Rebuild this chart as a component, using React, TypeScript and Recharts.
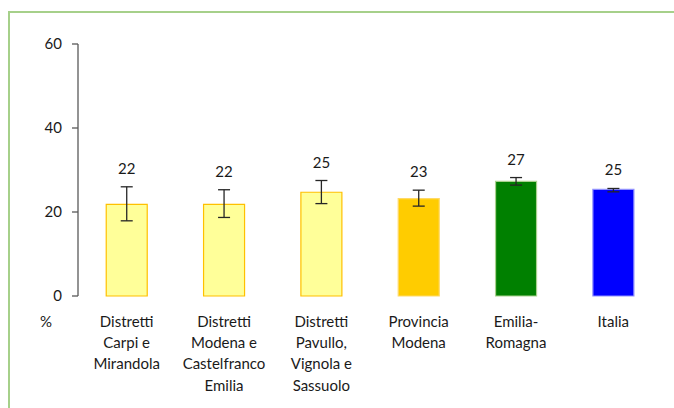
import { BarChart, Bar, XAxis, YAxis, ErrorBar, Cell, LabelList } from "recharts";

// categories (line breaks as in the original axis labels)
const categories = [
  "Distretti\nCarpi e\nMirandola",
  "Distretti\nModena e\nCastelfranco\nEmilia",
  "Distretti\nPavullo,\nVignola e\nSassuolo",
  "Provincia\nModena",
  "Emilia-\nRomagna",
  "Italia",
];
const values = [21.8, 21.8, 24.7, 23.2, 27.3, 25.4];
const valueLabels = ["22", "22", "25", "23", "27", "25"];
const errLow = [3.9, 3.1, 2.7, 1.8, 0.9, 0.6];
const errHigh = [4.2, 3.5, 2.8, 2.0, 0.9, 0.2];
const fills = ["#FFFF99", "#FFFF99", "#FFFF99", "#FFCC00", "#008000", "#0000FF"];
const strokes = ["#FFC000", "#FFC000", "#FFC000", "#FFD966", "#A9D18E", "#8F8FFF"];
const yTicks = [0, 20, 40, 60];

const data = categories.map((name, i) => ({
  name,
  value: values[i],
  label: valueLabels[i],
  err: [errLow[i], errHigh[i]],
}));

const FONT = "Lato, 'Open Sans', sans-serif";

const CategoryTick = (props: any) => {
  const { x, y, payload } = props;
  const lines = String(payload.value).split("\n");
  return (
    <text x={x} y={y} textAnchor="middle" fontSize={15} fill="#1a1a1a" fontFamily={FONT}>
      {lines.map((l, i) => (
        <tspan key={i} x={x} y={y + 23 + i * 21.2}>
          {l}
        </tspan>
      ))}
    </text>
  );
};

const ValueLabel = (props: any) => {
  const { x, y, width, height, index } = props;
  const perUnit = height / values[index];
  const top = y - errHigh[index] * perUnit;
  return (
    <text
      x={x + width / 2}
      y={top - 13}
      textAnchor="middle"
      fontSize={15}
      fill="#1a1a1a"
      fontFamily={FONT}
    >
      {valueLabels[index]}
    </text>
  );
};

export default function App() {
  return (
    <div
      style={{
        position: "absolute",
        left: 0,
        top: 0,
        width: 674,
        height: 408,
        background: "#fff",
        overflow: "hidden",
      }}
    >
      <div
        style={{
          position: "absolute",
          left: 8,
          top: 11,
          width: 700,
          height: 420,
          borderTop: "2px solid #A6D08A",
          borderLeft: "2px solid #A6D08A",
        }}
      />
      <div style={{ position: "absolute", left: 0, top: 0 }}>
        <BarChart
          width={674}
          height={408}
          data={data}
          margin={{ top: 44, right: 12, bottom: 0, left: 0 }}
          barCategoryGap="29%"
        >
          <XAxis
            dataKey="name"
            axisLine={false}
            tickLine={false}
            height={112}
            interval={0}
            tick={<CategoryTick />}
          />
          <YAxis
            width={78}
            domain={[0, 60]}
            ticks={yTicks}
            interval={0}
            tickSize={6}
            tickMargin={10}
            axisLine={{ stroke: "#595959", strokeWidth: 1.3 }}
            tickLine={{ stroke: "#595959", strokeWidth: 1.3 }}
            tick={{ fontSize: 15, fill: "#1a1a1a", fontFamily: FONT }}
          />
          <Bar dataKey="value" isAnimationActive={false} strokeWidth={1.2}>
            {data.map((d, i) => (
              <Cell key={d.name} fill={fills[i]} stroke={strokes[i]} />
            ))}
            <ErrorBar
              dataKey="err"
              width={6}
              stroke="#262626"
              strokeWidth={1.3}
              direction="y"
              isAnimationActive={false}
            />
            <LabelList dataKey="label" content={<ValueLabel />} />
          </Bar>
        </BarChart>
      </div>
      <div
        style={{
          position: "absolute",
          left: 40,
          top: 312,
          fontSize: 15,
          fontFamily: FONT,
          color: "#1a1a1a",
        }}
      >
        %
      </div>
    </div>
  );
}
